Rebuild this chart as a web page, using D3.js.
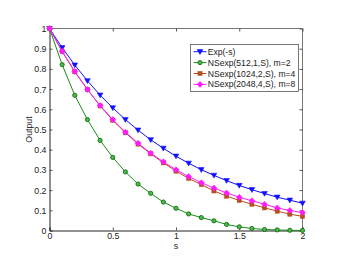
<!DOCTYPE html>
<html><head><meta charset="utf-8">
<script src="https://cdn.jsdelivr.net/npm/d3@7"></script>
<style>body{margin:0;background:#fff}svg{display:block}text{font-family:"Liberation Sans",Arial,sans-serif}</style>
</head><body><svg id="c" width="341" height="264"></svg>
<script>
const sVals = [0,0.1,0.2,0.3,0.4,0.5,0.6,0.7,0.8,0.9,1.0,1.1,1.2,1.3,1.4,1.5,1.6,1.7,1.8,1.9,2.0];
const expVals = [1,0.905,0.819,0.741,0.670,0.607,0.549,0.497,0.449,0.407,0.368,0.333,0.301,0.273,0.247,0.223,0.202,0.183,0.165,0.150,0.135];
const m2Vals = [1,0.821,0.669,0.549,0.446,0.362,0.290,0.230,0.184,0.141,0.110,0.082,0.064,0.048,0.030,0.018,0.010,0.005,0.003,0.001,0.0];
const m4Vals = [1,0.886,0.786,0.698,0.617,0.546,0.484,0.428,0.380,0.335,0.294,0.258,0.227,0.196,0.170,0.149,0.130,0.112,0.096,0.081,0.070];
const m8Vals = [1,0.887,0.787,0.698,0.619,0.549,0.487,0.432,0.383,0.340,0.301,0.267,0.237,0.210,0.186,0.165,0.147,0.130,0.112,0.099,0.089];
const seriesNames = ["Exp(-s)","NSexp(512,1,S), m=2","NSexp(1024,2,S), m=4","NSexp(2048,4,S), m=8"];
const xTicks = [0,0.5,1,1.5,2];
const yTicks = [0,0.1,0.2,0.3,0.4,0.5,0.6,0.7,0.8,0.9,1];

const svg = d3.select("#c");
const L=49.5, R=302.5, T=28.5, B=230.5;
const x = d3.scaleLinear().domain([0,2]).range([L,R]);
const y = d3.scaleLinear().domain([0,1]).range([B,T]);

const series = [
  {name:seriesNames[0], vals:expVals, color:"#1010ff", marker:"tri"},
  {name:seriesNames[1], vals:m2Vals, color:"#1a8c1a", marker:"circ"},
  {name:seriesNames[2], vals:m4Vals, color:"#b4501e", marker:"sq"},
  {name:seriesNames[3], vals:m8Vals, color:"#ff1aff", marker:"dia"}
];

svg.append("line").attr("x1",L).attr("x2",R).attr("y1",T).attr("y2",T).attr("stroke","#777");
svg.append("line").attr("x1",R).attr("x2",R).attr("y1",T).attr("y2",B).attr("stroke","#777");

const fmt = d => d===0?"0":String(d);
const xAx = svg.append("g").attr("transform",`translate(0,${B})`)
  .call(d3.axisBottom(x).tickValues(xTicks).tickSize(-3).tickPadding(3).tickFormat(fmt));
const yAx = svg.append("g").attr("transform",`translate(${L},0)`)
  .call(d3.axisLeft(y).tickValues(yTicks).tickSize(-3).tickPadding(3).tickFormat(fmt));
svg.append("g").attr("transform",`translate(0,${T})`)
  .call(d3.axisTop(x).tickValues(xTicks).tickSize(-3).tickFormat(""))
  .call(g=>g.select(".domain").remove());
svg.append("g").attr("transform",`translate(${R},0)`)
  .call(d3.axisRight(y).tickValues(yTicks).tickSize(-3).tickFormat(""))
  .call(g=>g.select(".domain").remove());
svg.selectAll(".tick line").attr("stroke","#555");
[xAx,yAx].forEach(a=>{a.select(".domain").attr("stroke","#222");a.selectAll("text").attr("font-size",8.8).attr("fill","#222").attr("font-family","Liberation Sans, Arial, sans-serif");});
xAx.selectAll("text").attr("dy","0.6em");
yAx.selectAll("text").attr("dy","0.35em");

svg.append("text").attr("x",(L+R)/2).attr("y",249).attr("text-anchor","middle").attr("font-size",8.8).attr("fill","#222").text("s");
svg.append("text").attr("transform",`translate(32,${(T+B)/2}) rotate(-90)`).attr("text-anchor","middle").attr("font-size",8.8).attr("fill","#222").text("Output");

function drawMarker(g, type, cx, cy, color){
  if(type==="tri"){
    g.append("path").attr("d",`M${cx-2.8},${cy-2.1}L${cx+2.8},${cy-2.1}L${cx},${cy+2.7}Z`).attr("fill",color).attr("stroke",color).attr("stroke-width",0.6);
  } else if(type==="circ"){
    g.append("circle").attr("cx",cx).attr("cy",cy).attr("r",2.1).attr("fill","#4fb84f").attr("stroke","#0d6e0d").attr("stroke-width",0.9);
  } else if(type==="sq"){
    g.append("rect").attr("x",cx-2.1).attr("y",cy-2.1).attr("width",4.2).attr("height",4.2).attr("fill",color).attr("stroke",color).attr("stroke-width",0.5);
  } else {
    g.append("path").attr("d",`M${cx},${cy-3}L${cx+3},${cy}L${cx},${cy+3}L${cx-3},${cy}Z`).attr("fill",color).attr("stroke",color).attr("stroke-width",0.5);
  }
}

const line = d3.line().x((d,i)=>x(sVals[i])).y(d=>y(d));
series.forEach(s=>{
  const g = svg.append("g");
  g.append("path").attr("d",line(s.vals)).attr("fill","none").attr("stroke",s.color).attr("stroke-width",1);
  s.vals.forEach((v,i)=>drawMarker(g,s.marker,x(sVals[i]),y(v),s.color));
});

const lg = svg.append("g");
lg.append("rect").attr("x",190.5).attr("y",44.5).attr("width",108).attr("height",47).attr("fill","#fff").attr("stroke","#555").attr("stroke-width",0.8);
series.forEach((s,i)=>{
  const cy = 51.7 + i*10.9;
  lg.append("line").attr("x1",193.5).attr("x2",206.5).attr("y1",cy).attr("y2",cy).attr("stroke",s.color).attr("stroke-width",1);
  drawMarker(lg,s.marker,200,cy,s.color);
  lg.append("text").attr("x",207.7).attr("y",cy).attr("dy","0.35em").attr("font-size",8.6).attr("fill","#222").text(s.name);
});
</script></body></html>
